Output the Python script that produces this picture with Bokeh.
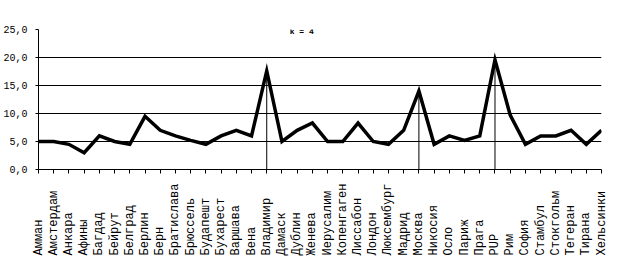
from math import pi
from bokeh.plotting import figure
from bokeh.models import Range1d, FixedTicker, ColumnDataSource, Label
from bokeh.embed import file_html
from bokeh.resources import INLINE

cities = ["Амман", "Амстердам", "Анкара", "Афины", "Багдад", "Бейрут", "Белград",
          "Берлин", "Берн", "Братислава", "Брюссель", "Будапешт", "Бухарест",
          "Варшава", "Вена", "Владимир", "Дамаск", "Дублин", "Женева", "Иерусалим",
          "Копенгаген", "Лиссабон", "Лондон", "Люксембург", "Мадрид", "Москва",
          "Никосия", "Осло", "Париж", "Прага", "PUP", "Рим", "София", "Стамбул",
          "Стокгольм", "Тегеран", "Тирана", "Хельсинки"]
values = [5.0, 5.0, 4.5, 3.0, 6.0, 5.0, 4.5,
          9.5, 7.0, 6.0, 5.2, 4.5, 6.0,
          7.0, 6.0, 17.6, 5.0, 7.0, 8.3, 5.0,
          5.0, 8.3, 5.0, 4.5, 7.0, 14.0,
          4.5, 6.0, 5.2, 6.0, 19.6, 9.7, 4.5, 6.0,
          6.0, 7.0, 4.5, 7.0]
drop_cities = ["Владимир", "Москва", "PUP"]
y_ticks = [0, 5, 10, 15, 20, 25]
y_tick_labels = ["0,0", "5,0", "10,0", "15,0", "20,0", "25,0"]
grid_values = [5, 10, 15, 20]
annotation_text = "k = 4"

MONO = "'Liberation Mono', 'Courier New', monospace"

idx = list(range(len(cities)))
src = ColumnDataSource(dict(x=idx, y=values))

p = figure(width=618, height=267, output_backend="svg", toolbar_location=None,
           x_range=Range1d(0, len(cities) - 1), y_range=Range1d(0, 25),
           min_border_left=38, min_border_right=17, min_border_top=29,
           min_border_bottom=98)
p.outline_line_color = None
p.background_fill_color = "white"
p.border_fill_color = "white"

# y axis
p.yaxis.ticker = FixedTicker(ticks=y_ticks)
p.yaxis.major_label_overrides = {t: l for t, l in zip(y_ticks, y_tick_labels)}
p.yaxis.major_label_text_font = MONO
p.yaxis.major_label_text_font_size = "10px"
p.yaxis.major_label_text_color = "black"
p.yaxis.major_tick_out = 3
p.yaxis.major_tick_in = 0
p.yaxis.minor_tick_out = 0
p.yaxis.minor_tick_in = 0
p.yaxis.major_label_standoff = 8
p.yaxis.axis_line_color = "black"
p.yaxis.major_tick_line_color = "black"

# x axis: category names read upward, all starting at the same baseline
pad = max(len(c) for c in cities)
p.xaxis.ticker = FixedTicker(ticks=idx)
p.xaxis.major_label_overrides = {i: c + "\u00a0" * (pad - len(c)) for i, c in enumerate(cities)}
p.xaxis.major_label_orientation = pi / 2
p.xaxis.major_label_text_font = MONO
p.xaxis.major_label_text_font_size = "12px"
p.xaxis.major_label_text_color = "black"
p.xaxis.major_label_standoff = 10
p.xaxis.major_tick_out = 4
p.xaxis.major_tick_in = 0
p.xaxis.minor_tick_out = 0
p.xaxis.axis_line_color = "black"
p.xaxis.major_tick_line_color = "black"

p.xgrid.visible = False
p.ygrid.ticker = FixedTicker(ticks=grid_values)
p.ygrid.grid_line_color = "black"
p.ygrid.grid_line_width = 1

# drop lines
dx = [cities.index(c) for c in drop_cities]
dy = [values[i] for i in dx]
p.segment(x0=dx, y0=[0] * len(dx), x1=dx, y1=dy, line_color="black", line_width=1)

# main line
p.line("x", "y", source=src, line_color="black", line_width=3.5, line_join="miter")

p.add_layout(Label(x=17.3, y=24.6, text=annotation_text, text_align="center",
                   text_baseline="middle", text_font=MONO,
                   text_font_size="8px", text_font_style="bold", text_color="black"))

open("out.html", "w").write(file_html(p, INLINE))
